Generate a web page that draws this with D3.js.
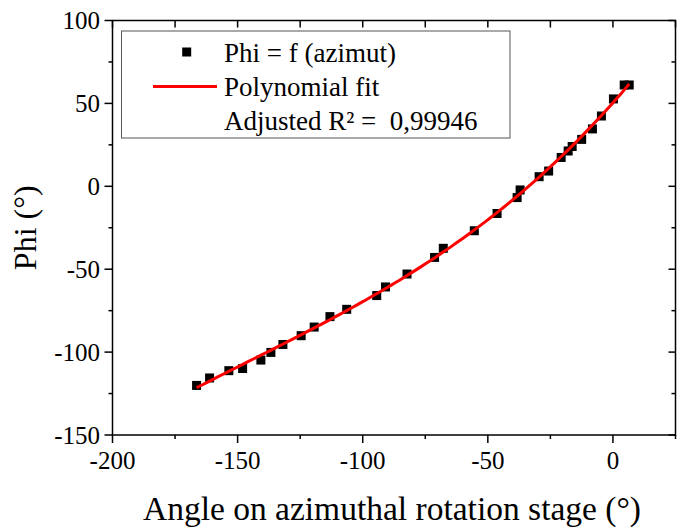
<!DOCTYPE html>
<html><head><meta charset="utf-8">
<script src="https://cdn.jsdelivr.net/npm/d3@7"></script>
<style>html,body{margin:0;padding:0;background:#fff;}svg{display:block;} text{white-space:pre;}</style>
</head><body>
<script>
const azimut = [-166.4,-161.2,-153.5,-148.0,-140.7,-136.7,-131.9,-124.6,-119.4,-113.1,-106.4,-94.4,-90.9,-82.3,-71.3,-67.8,-55.4,-46.3,-38.3,-37.1,-29.5,-25.7,-20.7,-17.9,-16.3,-12.5,-8.2,-4.6,0.2,4.5,6.5];
const phi    = [-120.1,-115.6,-111.2,-109.9,-104.8,-100.2,-95.4,-90.1,-84.9,-78.6,-74.2,-65.9,-60.7,-52.9,-42.9,-37.4,-26.8,-16.4,-6.8,-2.2,5.8,9.2,17.4,21.3,24.0,28.3,34.6,42.4,52.7,61.1,61.1];
const xTicks = [-200,-150,-100,-50,0];
const yTicks = [-150,-100,-50,0,50,100];
const legendLabels = ["Phi = f (azimut)","Polynomial fit","Adjusted R\u00B2 =  0,99946"];

const W=677,H=529;
const L=112.5,R=675.5,T=20.5,B=435;
const svg=d3.select("body").append("svg").attr("width",W).attr("height",H);
const x=d3.scaleLinear().domain([-200,25]).range([L,R]);
const y=d3.scaleLinear().domain([-150,100]).range([B,T]);
const font="Liberation Serif";

// polynomial least squares fit from the data (degree 3)
function polyfit(xs,ys,deg){
  const n=deg+1;
  const A=[];
  for(let i=0;i<n;i++){A.push(new Array(n+1).fill(0));}
  xs.forEach((xv,idx)=>{
    for(let i=0;i<n;i++){for(let j=0;j<n;j++)A[i][j]+=Math.pow(xv,i+j);A[i][n]+=Math.pow(xv,i)*ys[idx];}
  });
  for(let i=0;i<n;i++){for(let j=i+1;j<n;j++){const f=A[j][i]/A[i][i];for(let k=i;k<=n;k++)A[j][k]-=f*A[i][k];}}
  const c=new Array(n).fill(0);
  for(let i=n-1;i>=0;i--){let s=A[i][n];for(let k=i+1;k<n;k++)s-=A[i][k]*c[k];c[i]=s/A[i][i];}
  return c;
}
const coef=polyfit(azimut,phi,3);
const evalP=xv=>coef.reduce((s,ci,i)=>s+ci*Math.pow(xv,i),0);
const xmin=d3.min(azimut),xmax=d3.max(azimut);
const fitPts=d3.range(0,101).map(i=>{const xv=xmin+(xmax-xmin)*i/100;return [xv,evalP(xv)];});

// axes
const minorX=d3.range(-200,26,25), minorY=d3.range(-150,101,25);
const g=svg.append("g").attr("stroke","#000").attr("stroke-width",1.5);
minorX.forEach(v=>{const maj=xTicks.includes(v);
  g.append("line").attr("x1",x(v)).attr("x2",x(v)).attr("y1",B).attr("y2",B+(maj?8:4));
  g.append("line").attr("x1",x(v)).attr("x2",x(v)).attr("y1",T).attr("y2",T+7);
});
minorY.forEach(v=>{const maj=yTicks.includes(v);
  g.append("line").attr("y1",y(v)).attr("y2",y(v)).attr("x1",L).attr("x2",L-(maj?8:4));
  g.append("line").attr("y1",y(v)).attr("y2",y(v)).attr("x1",R).attr("x2",R-(maj?7:4));
});
svg.append("rect").attr("x",L).attr("y",T).attr("width",R-L).attr("height",B-T)
  .attr("fill","none").attr("stroke","#000").attr("stroke-width",1.5);

svg.append("g").selectAll("text").data(xTicks).join("text")
  .attr("x",d=>x(d)).attr("y",469).attr("text-anchor","middle")
  .attr("font-family",font).attr("font-size",25).text(d=>d);
svg.append("g").selectAll("text").data(yTicks).join("text")
  .attr("x",100).attr("y",d=>y(d)+8.5).attr("text-anchor","end")
  .attr("font-family",font).attr("font-size",25).text(d=>d);

svg.append("text").attr("x",(L+R)/2-2).attr("y",520).attr("text-anchor","middle")
  .attr("font-family",font).attr("font-size",33.5).text("Angle on azimuthal rotation stage (\u00B0)");
svg.append("text").attr("transform",`translate(36,${(T+B)/2}) rotate(-90)`).attr("text-anchor","middle")
  .attr("font-family",font).attr("font-size",32).text("Phi (\u00B0)");

// data
const ms=9;
svg.append("g").selectAll("rect").data(azimut.map((a,i)=>[a,phi[i]])).join("rect")
  .attr("x",d=>x(d[0])-ms/2).attr("y",d=>y(d[1])-ms/2).attr("width",ms).attr("height",ms).attr("fill","#000");
svg.append("path").datum(fitPts).attr("fill","none").attr("stroke","#ff0000").attr("stroke-width",3)
  .attr("d",d3.line().x(d=>x(d[0])).y(d=>y(d[1])));

// legend
svg.append("rect").attr("x",121.5).attr("y",31).attr("width",388.5).attr("height",107)
  .attr("fill","#fff").attr("stroke","#555").attr("stroke-width",1);
svg.append("rect").attr("x",186.7-ms/2).attr("y",52-ms/2).attr("width",ms).attr("height",ms).attr("fill","#000");
svg.append("line").attr("x1",153).attr("x2",217).attr("y1",86.5).attr("y2",86.5).attr("stroke","#ff0000").attr("stroke-width",3);
svg.append("g").selectAll("text").data(legendLabels).join("text")
  .attr("x",224).attr("y",(d,i)=>62+34*i).attr("font-family",font).attr("font-size",27)
  .attr("xml:space","preserve").text(d=>d);
</script>
</body></html>
